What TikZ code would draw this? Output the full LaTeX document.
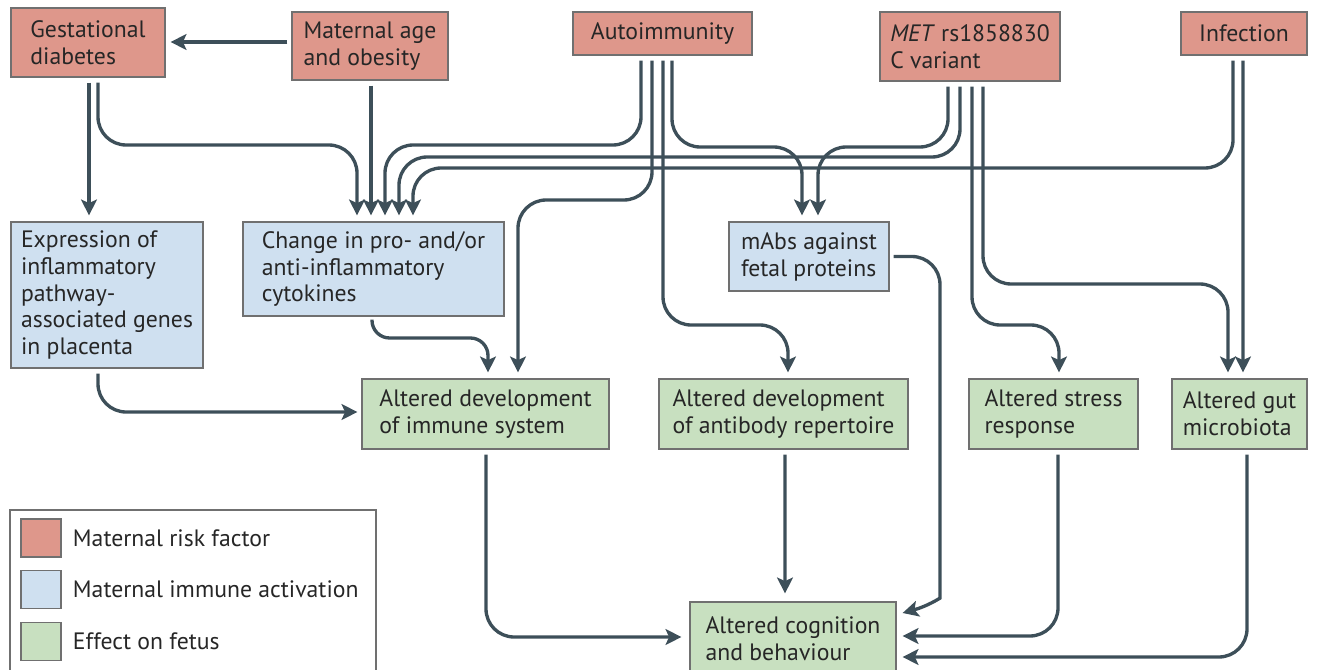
\documentclass[tikz,border=0pt]{standalone}
\usepackage{fontspec}
\setmainfont{PT Sans}
\usetikzlibrary{arrows.meta}
\usetikzlibrary{positioning}
\usetikzlibrary{calc}
\definecolor{riskred}{HTML}{DE978B}
\definecolor{miablue}{HTML}{CFE0F0}
\definecolor{fetusgreen}{HTML}{C8E0C0}
\definecolor{linkgray}{HTML}{3D4F59}
\definecolor{boxgray}{HTML}{707070}
\definecolor{textdark}{HTML}{262626}

\begin{document}
\begin{tikzpicture}[x=0.02cm, y=-0.02cm]
\tikzset{box/.style = {draw=boxgray, line width=0.7pt, align=left, inner sep=0pt, text=textdark, font=\fontsize{13.5}{15.3}\selectfont}}
\tikzset{risk/.style = {box, fill=riskred}}
\tikzset{mia/.style = {box, fill=miablue}}
\tikzset{fetus/.style = {box, fill=fetusgreen}}
\tikzset{legendtext/.style = {text=textdark, font=\fontsize{13.5}{15.3}\selectfont, inner sep=2pt}}
\tikzset{link/.style = {draw=linkgray, line width=1.9pt, rounded corners=16pt, -{Stealth[length=9pt, width=9pt, inset=2pt]}}}
\useasboundingbox (0,0) rectangle (1321,669);
\node[risk, minimum width=3.08cm, minimum height=1.38cm](gd) at (88,42.5) {Gestational\\diabetes};
\node[risk, minimum width=3.12cm, minimum height=1.36cm](mao) at (370,46) {Maternal age\\and obesity};
\node[risk, minimum width=3.58cm, minimum height=0.86cm](auto) at (662.5,33.5) {Autoimmunity};
\node[risk, minimum width=3.6cm, minimum height=1.38cm](met) at (970,46.5) {\textit{MET} rs1858830\\C variant};
\node[risk, minimum width=2.52cm, minimum height=0.86cm](inf) at (1244,33.5) {Infection};
\node[mia, minimum width=3.84cm, minimum height=2.92cm](expr) at (107,295) {Expression of\\inflammatory\\pathway-\\associated genes\\in placenta};
\node[mia, minimum width=5.22cm, minimum height=1.88cm](cyto) at (373.5,269) {Change in pro- and/or\\anti-inflammatory\\cytokines};
\node[mia, minimum width=3.2cm, minimum height=1.38cm](mabs) at (809,256.5) {mAbs against\\fetal proteins};
\node[fetus, minimum width=4.94cm, minimum height=1.4cm](imm) at (485.5,414) {Altered development\\of immune system};
\node[fetus, minimum width=4.98cm, minimum height=1.4cm](ab) at (783.5,414) {Altered development\\of antibody repertoire};
\node[fetus, minimum width=3.38cm, minimum height=1.4cm](stress) at (1053.5,414) {Altered stress\\response};
\node[fetus, minimum width=2.7cm, minimum height=1.4cm](gut) at (1239.5,414) {Altered gut\\microbiota};
\node[fetus, minimum width=4.12cm, minimum height=1.48cm](cog) at (793,639) {Altered cognition\\and behaviour};
\draw[draw=boxgray, line width=0.7pt] (10,510) rectangle (376,690);
\node[risk, minimum width=0.8cm, minimum height=0.76cm](lgrisk) at (41,538) {};
\node[mia, minimum width=0.8cm, minimum height=0.76cm](lgmia) at (41,589.5) {};
\node[fetus, minimum width=0.8cm, minimum height=0.76cm](lgfetus) at (41,641.5) {};
\node[legendtext, right=0.15cm of lgrisk](lgrisktext) {Maternal risk factor};
\node[legendtext, right=0.15cm of lgmia](lgmiatext) {Maternal immune activation};
\node[legendtext, right=0.15cm of lgfetus](lgfetustext) {Effect on fetus};
\draw[link] ($(mao.west)+(-4,-4)$) -- ($(gd.east)+(5,-0.5)$);
\draw[link] ($(gd.south)+(1,5)$) -- ($(expr.north)+(-18,-6)$);
\draw[link] ($(gd.south)+(10,5)$) |- (357,145) -- ($(cyto.north)+(-16.5,-6)$);
\draw[link] ($(mao.south)+(1,5)$) -- ($(cyto.north)+(-2.5,-6)$);
\draw[link] ($(auto.south)+(-21.5,5)$) |- (385,145) -- ($(cyto.north)+(11.5,-6)$);
\draw[link] ($(met.south)+(-10,5)$) |- (399,157) -- ($(cyto.north)+(25.5,-6)$);
\draw[link] ($(inf.south)+(-11,5)$) |- (413,168) -- ($(cyto.north)+(39.5,-6)$);
\draw[link] ($(auto.south)+(9.5,5)$) |- (802,147) -- ($(mabs.north)+(-7,-6)$);
\draw[link] ($(met.south)+(-22,5)$) |- (818,147) -- ($(mabs.north)+(9,-6)$);
\draw[link] ($(auto.south)+(-10.5,5)$) |- (518,200) -- ($(imm.north)+(32.5,-6)$);
\draw[link, rounded corners=10pt] ($(cyto.south)+(-1.5,3)$) |- (488,338) -- ($(imm.north)+(2.5,-6)$);
\draw[link] ($(expr.south)+(-9,5)$) |- ($(imm.west)+(-4,-2)$);
\draw[link] ($(auto.south)+(0.5,5)$) |- (788,325) -- ($(ab.north)+(4.5,-6)$);
\draw[link] ($(met.south)+(2,5)$) |- (1059,325) -- ($(stress.north)+(5.5,-6)$);
\draw[link] ($(met.south)+(13,5)$) |- (1228,284) -- ($(gut.north)+(-11.5,-6)$);
\draw[link] ($(inf.south)+(-1,5)$) -- ($(gut.north)+(3.5,-6)$);
\draw[link] ($(imm.south)+(0.5,5)$) |- ($(cog.west)+(-8,-2)$);
\draw[link] ($(ab.south)+(1.5,5)$) -- ($(cog.north)+(-8,-8)$);
\draw[link] ($(mabs.east)+(4,0)$) -| (940,570) [sharp corners] .. controls (940,598) and (928,606) .. ($(cog.east)+(6,-26)$);
\draw[link] ($(stress.south)+(4.5,5)$) |- ($(cog.east)+(6,-3)$);
\draw[link] ($(gut.south)+(7.5,5)$) |- ($(cog.east)+(6,18)$);
\end{tikzpicture}
\end{document}
